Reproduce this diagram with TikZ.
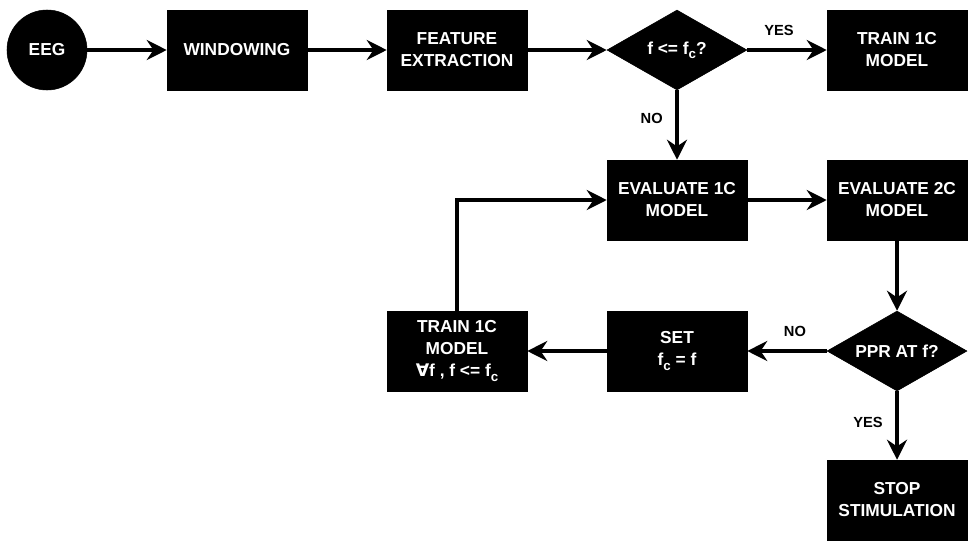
\documentclass[tikz,border=0pt]{standalone}
\usepackage{fontspec}
\setmainfont{Liberation Sans}
\newfontfamily\symfont{DejaVu Sans}
\usetikzlibrary{arrows.meta,shapes.geometric}
% lowered subscript, as in f_c
\newcommand\lowsub[1]{\raisebox{-0.45ex}{\fontsize{10}{10}\selectfont #1}}
\begin{document}
\begin{tikzpicture}[x=0.75pt,y=-0.75pt,
  every node/.style={font=\fontsize{13}{16.5}\selectfont\bfseries},
  stepbox/.style={rectangle,fill=black,draw=black,text=white,align=center,
    minimum width=105pt,minimum height=60pt,inner sep=0pt},
  choice/.style={diamond,fill=black,draw=black,text=white,align=center,
    minimum width=105pt,minimum height=60pt,inner sep=0pt,aspect=1.75},
  startnode/.style={circle,fill=black,draw=black,text=white,minimum size=60pt,inner sep=0pt},
  flow/.style={line width=2.8pt,-{Stealth[length=15pt,width=15pt,inset=5pt]}},
  tag/.style={font=\fontsize{11}{11}\selectfont\bfseries,text=black}]
\useasboundingbox (0,0) rectangle (969,540);

% nodes of the top row
\node[startnode] (eeg) at (47,50) {EEG};
\node[stepbox] (win) at (237,50) {WINDOWING};
\node[stepbox] (feat) at (457,50) {FEATURE\\EXTRACTION};
\node[choice] (cmp) at (677,50) {f <= f\lowsub{c}?};
\node[stepbox] (train) at (897,50) {TRAIN 1C\\MODEL};

% middle row
\node[stepbox] (ev1) at (677,200) {EVALUATE 1C\\MODEL};
\node[stepbox] (ev2) at (897,200) {EVALUATE 2C\\MODEL};

% bottom rows
\node[choice] (ppr) at (897,351) {PPR AT f?};
\node[stepbox] (set) at (677,351) {SET\\f\lowsub{c} = f};
\node[stepbox] (retrain) at (457,351) {TRAIN 1C\\MODEL\\{\symfont\bfseries ∀}f , f <= f\lowsub{c}};
\node[stepbox] (stop) at (897,500) {STOP\\STIMULATION};

% connectors
\draw[flow] (eeg) -- (win);
\draw[flow] (win) -- (feat);
\draw[flow] (feat) -- (cmp);
\draw[flow] (cmp) -- node[tag,above=6pt,pos=0.4] {YES} (train);
\draw[flow] (cmp) -- node[tag,left=6pt,pos=0.4] {NO} (ev1);
\draw[flow] (ev1) -- (ev2);
\draw[flow] (ev2) -- (ppr);
\draw[flow] (ppr) -- node[tag,above=6pt,pos=0.4] {NO} (set);
\draw[flow] (ppr) -- node[tag,left=6pt,pos=0.45] {YES} (stop);
\draw[flow] (set) -- (retrain);
\draw[flow] (retrain.north) |- (ev1.west);
\end{tikzpicture}
\end{document}
